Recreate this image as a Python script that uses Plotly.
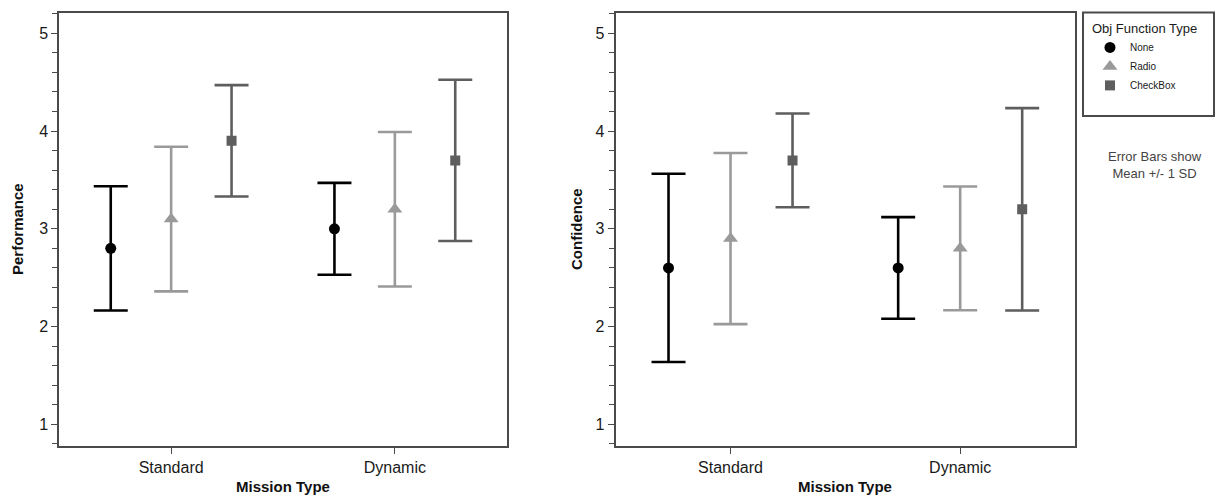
import plotly.graph_objects as go

# ---- data ----
missions = ["Standard", "Dynamic"]
groups = ["None", "Radio", "CheckBox"]

perf_mean = {"None": [2.80, 3.00], "Radio": [3.10, 3.20], "CheckBox": [3.90, 3.70]}
perf_sd = {"None": [0.635, 0.47], "Radio": [0.74, 0.79], "CheckBox": [0.57, 0.825]}

conf_mean = {"None": [2.60, 2.60], "Radio": [2.90, 2.80], "CheckBox": [3.70, 3.20]}
conf_sd = {"None": [0.963, 0.52], "Radio": [0.875, 0.633], "CheckBox": [0.48, 1.035]}

y_ticks = [1, 2, 3, 4, 5]

# ---- styles ----
colors = {"None": "#000000", "Radio": "#9a9a9a", "CheckBox": "#5e5e5e"}
symbols = {"None": "circle", "Radio": "triangle-up", "CheckBox": "square"}
sizes = {"None": 11, "Radio": 13, "CheckBox": 10}
offsets = {"None": -0.27, "Radio": 0.0, "CheckBox": 0.27}

W, H = 1215, 496
fig = go.Figure()

for panel, (means, sds) in enumerate([(perf_mean, perf_sd), (conf_mean, conf_sd)]):
    xa = "x" if panel == 0 else "x2"
    ya = "y" if panel == 0 else "y2"
    for g in groups:
        xs = [i + offsets[g] for i in range(len(missions))]
        fig.add_trace(go.Scatter(
            x=xs, y=means[g], mode="markers", name=g,
            xaxis=xa, yaxis=ya,
            showlegend=(panel == 0),
            marker=dict(symbol=symbols[g], size=sizes[g], color=colors[g]),
            error_y=dict(type="data", array=sds[g], visible=True,
                         color=colors[g], thickness=2.6, width=17),
        ))

def px_x(p):
    return p / W

def px_y(p):
    return 1 - p / H

ydom = [px_y(446), px_y(12.5)]
axis_common = dict(showline=True, linecolor="#4a4a4a", linewidth=2, mirror=True,
                   showgrid=False, zeroline=False, ticks="outside", tickcolor="#4a4a4a",
                   tickfont=dict(family="Liberation Sans, Arial, sans-serif", size=16, color="#1a1a1a"))

fig.update_layout(
    width=W, height=H,
    margin=dict(l=0, r=0, t=0, b=0),
    paper_bgcolor="white", plot_bgcolor="white",
    xaxis=dict(domain=[px_x(59.3), px_x(506.7)], range=[-0.5, 1.5],
               tickvals=list(range(len(missions))), ticktext=missions, ticklen=6,
               anchor="y", **axis_common),
    xaxis2=dict(domain=[px_x(615.7), px_x(1075)], range=[-0.5, 1.5],
                tickvals=list(range(len(missions))), ticktext=missions, ticklen=6,
                anchor="y2", **axis_common),
    yaxis=dict(domain=ydom, range=[0.778, 5.213], tickvals=y_ticks, ticklen=6,
               minor=dict(dtick=0.2, tick0=0, ticks="outside", ticklen=5, tickcolor="#4a4a4a"),
               anchor="x", **axis_common),
    yaxis2=dict(domain=ydom, range=[0.778, 5.213], tickvals=y_ticks, ticklen=6,
                minor=dict(dtick=0.2, tick0=0, ticks="outside", ticklen=5, tickcolor="#4a4a4a"),
                anchor="x2", **axis_common),
    legend=dict(x=px_x(1090), y=px_y(16), xanchor="left", yanchor="top",
                bgcolor="rgba(0,0,0,0)", borderwidth=0,
                title=dict(text="Obj Function Type",
                           font=dict(family="Liberation Sans, Arial, sans-serif", size=13, color="#1a1a1a")),
                font=dict(family="Liberation Sans, Arial, sans-serif", size=10, color="#1a1a1a"),
                tracegroupgap=0, itemwidth=30),
    showlegend=True,
)

# legend frame
fig.add_shape(type="rect", xref="paper", yref="paper",
              x0=px_x(1083), x1=px_x(1214), y0=px_y(116), y1=px_y(12.5),
              line=dict(color="#4a4a4a", width=2), fillcolor="rgba(0,0,0,0)")

title_font = dict(family="Liberation Sans, Arial, sans-serif", size=15, color="#111111")
annos = [
    dict(text="<b>Performance</b>", x=px_x(17), y=px_y(229), textangle=-90),
    dict(text="<b>Confidence</b>", x=px_x(576), y=px_y(229), textangle=-90),
    dict(text="<b>Mission Type</b>", x=px_x(283), y=px_y(486)),
    dict(text="<b>Mission Type</b>", x=px_x(845), y=px_y(486)),
]
for a in annos:
    fig.add_annotation(xref="paper", yref="paper", showarrow=False,
                       xanchor="center", yanchor="middle", font=title_font, **a)

fig.add_annotation(xref="paper", yref="paper", showarrow=False,
                   x=px_x(1155), y=px_y(165), xanchor="center", yanchor="middle",
                   text="Error Bars show<br>Mean +/- 1 SD",
                   font=dict(family="Liberation Sans, Arial, sans-serif", size=13, color="#444444"))

fig.write_html("out.html", config={"displayModeBar": False},
               post_script="document.body.style.margin='0';document.body.style.overflow='hidden';")
